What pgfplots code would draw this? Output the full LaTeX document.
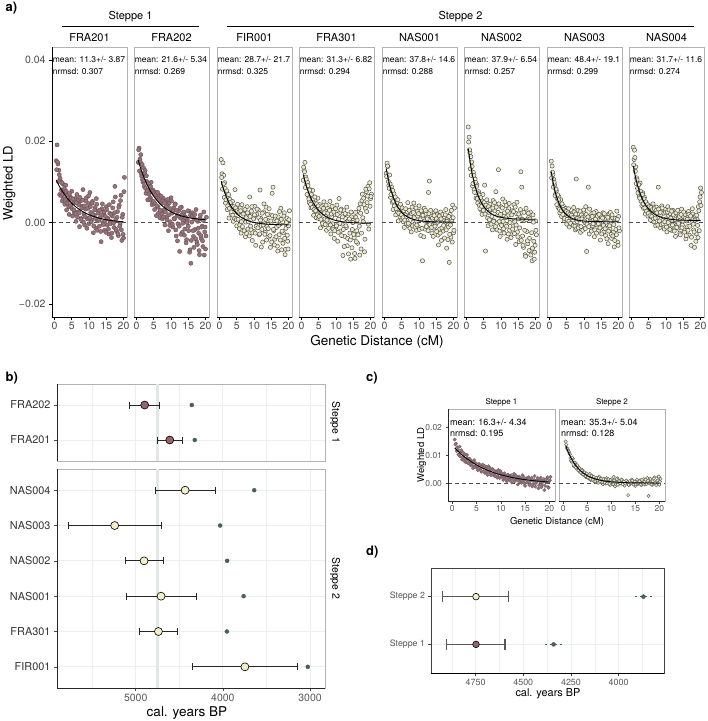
\documentclass[border=0pt]{standalone}
\usepackage{fontspec}
\setmainfont{TeX Gyre Heros}
\usepackage{pgfplots}
\usepackage{pgfplotstable}
\pgfplotsset{compat=1.18}
\usetikzlibrary{arrows.meta}

\definecolor{mauve}{RGB}{160,110,118}
\definecolor{cream}{RGB}{238,235,200}
\definecolor{mauveb}{RGB}{152,100,108}
\definecolor{creamb}{RGB}{242,238,200}
\definecolor{slate}{RGB}{74,94,98}
\definecolor{gridc}{RGB}{235,239,240}
\definecolor{bandc}{RGB}{226,232,230}
\newcommand{\fs}[1]{\fontsize{#1}{#1}\selectfont}

% weighted LD in units of 1e-3
\pgfplotstableread{
x a1 a2 a3 a4 a5 a6 a7 a8 c1 c2
0.5 15.2 14.8 15.5 10.4 12.1 23.5 15.1 18.5 15.6 14.9
0.75 19.1 18.3 12.0 12.9 14.6 21.0 13.9 15.5 14.2 12.6
1.0 14.4 15.6 14.7 14.8 13.8 17.2 11.8 16.0 12.9 11.9
1.25 12.9 16.7 11.6 11.2 9.1 16.2 10.6 13.7 10.3 10.8
1.5 6.9 11.4 9.8 9.5 11.7 14.9 9.2 11.0 13.1 9.0
1.75 10.2 10.6 4.8 9.9 6.2 9.0 7.0 8.4 11.4 7.7
2.0 8.0 13.5 7.6 6.6 8.8 12.3 7.8 9.6 8.4 8.8
2.25 5.3 8.9 3.2 4.9 5.0 8.1 5.9 6.4 10.9 6.0
2.5 9.4 12.8 6.4 8.1 3.2 10.7 3.7 9.7 9.0 7.3
2.75 7.6 7.2 1.1 3.6 7.1 6.0 6.3 5.3 7.5 5.2
3.0 4.5 10.1 5.7 4.0 4.6 9.3 2.4 4.2 10.1 6.2
3.25 9.2 5.6 3.8 7.9 1.9 4.8 5.6 7.3 7.2 4.3
3.5 3.1 8.0 2.0 1.8 5.8 7.6 1.5 3.5 8.8 5.0
3.75 7.0 9.3 5.2 3.0 2.6 4.2 3.9 6.2 6.5 3.5
4.0 5.4 6.1 0.3 5.6 0.4 6.6 4.1 2.1 7.9 4.7
4.25 2.0 9.9 2.7 1.2 4.0 3.1 0.5 4.9 5.4 2.9
4.5 6.3 4.4 8.1 2.6 1.4 2.0 1.9 3.0 8.3 3.8
4.75 3.8 8.0 1.0 6.0 3.9 6.9 3.5 1.6 6.1 2.2
5.0 7.7 4.9 -0.8 1.0 0.7 2.8 -0.4 4.2 5.6 3.0
5.25 1.6 3.2 4.5 4.4 3.3 9.2 1.4 2.5 4.7 1.8
5.5 4.9 7.5 2.3 -1.3 0.2 -7.0 3.4 0.6 7.0 3.4
5.75 2.5 1.7 -1.5 2.0 -1.2 3.9 -1.1 3.6 5.0 1.2
6.0 5.9 6.3 3.6 3.1 3.1 4.9 1.0 1.4 4.1 2.6
6.25 0.3 3.8 -2.6 -0.6 2.2 -0.8 2.2 4.6 6.7 0.9
6.5 6.9 6.8 4.4 5.1 0.5 2.5 -0.5 0.2 5.5 2.0
6.75 2.6 1.2 0.4 0.9 4.9 4.5 0.6 2.9 3.7 0.5
7.0 4.4 2.9 0.7 2.7 -0.9 0.9 3.7 -0.8 5.8 1.7
7.25 -1.0 4.8 2.3 -1.9 1.6 3.2 1.6 3.8 3.0 0.2
7.5 5.3 0.9 -3.5 3.6 2.5 -1.8 -1.8 1.2 6.1 2.4
7.75 1.0 6.0 1.2 0.3 -2.3 5.4 10.7 8.7 4.6 0.4
8.0 4.0 3.1 3.9 1.8 3.8 0.4 0.2 2.6 2.9 1.4
8.25 8.1 -0.6 -1.6 5.2 0.1 2.9 3.0 -1.2 5.2 -0.3
8.5 2.1 5.4 1.9 -2.8 4.8 7.6 -0.9 1.9 3.3 1.6
8.75 -0.6 1.4 6.3 1.4 -0.4 -0.2 1.3 4.1 2.5 0.0
9.0 3.3 4.2 -0.9 -0.3 1.3 1.8 -2.4 0.5 4.3 1.9
9.25 6.1 -2.0 2.8 3.3 -1.9 13.0 1.9 2.7 2.0 0.6
9.5 0.9 4.9 -4.4 -3.9 2.8 0.3 1.2 -1.6 4.8 1.1
9.75 4.7 0.2 1.3 1.9 -1.0 -3.4 -1.4 3.2 1.9 -0.6
10.0 -0.3 6.1 -2.2 -1.1 4.1 3.9 2.6 0.9 4.0 1.4
10.25 7.4 2.3 4.0 4.3 1.9 1.0 0.0 -2.3 2.8 0.2
10.5 2.5 -1.1 -5.6 -4.6 -3.2 5.8 3.9 3.9 1.2 2.3
10.75 0.7 3.6 2.0 0.8 2.6 -1.5 -7.1 1.7 3.6 -1.1
11.0 5.2 0.9 -0.5 2.4 -9.4 2.4 1.6 -0.4 2.3 0.7
11.25 -2.5 4.6 3.1 -2.1 0.9 -0.4 8.7 2.2 0.6 1.8
11.5 1.8 -3.3 -3.0 3.3 3.5 4.2 -2.8 -1.9 3.1 -0.4
11.75 3.7 1.8 8.0 -0.4 -1.6 -4.1 1.1 0.6 1.6 0.9
12.0 -1.4 -0.3 1.0 -8.1 2.0 1.7 -1.2 3.0 2.6 -0.1
12.25 4.5 2.9 -1.7 2.9 -0.7 3.4 2.2 -0.9 0.3 1.2
12.5 0.4 -7.1 -4.8 -3.4 1.3 -1.9 -0.8 1.3 2.0 0.4
12.75 2.9 1.1 2.6 1.0 7.4 0.6 1.8 -3.4 3.4 -0.8
13.0 -0.9 3.8 -0.3 -1.2 10.2 -3.0 -3.5 2.4 1.0 0.8
13.25 1.2 -2.4 -2.4 -5.7 -0.2 2.9 0.5 0.1 1.9 0.1
13.5 -4.7 0.5 3.8 0.4 1.5 -1.0 2.7 -1.4 -0.4 -4.2
13.75 3.4 2.2 -1.0 2.1 -2.6 4.4 -0.6 1.9 2.4 -0.5
14.0 0.0 -1.6 0.5 -2.6 0.7 0.2 1.0 -2.6 1.4 0.6
14.25 2.1 1.3 -3.6 -9.0 -1.4 -5.4 -1.9 0.8 0.2 1.3
14.5 -1.9 -4.2 1.9 1.4 2.3 2.2 0.0 3.3 2.9 -0.2
14.75 1.5 0.6 -6.1 -1.7 -0.5 -2.3 -4.3 -0.6 1.1 0.4
15.0 3.9 -0.9 0.0 0.5 1.0 0.9 1.4 1.5 -0.9 -0.9
15.25 -0.6 2.8 7.2 -3.7 1.9 -4.7 -1.0 -1.8 1.8 0.9
15.5 1.0 -6.7 8.7 -8.8 -3.1 1.6 2.4 2.0 0.5 -0.3
15.75 -2.8 -10.0 -2.0 1.3 0.4 12.5 -2.3 -4.0 2.2 0.6
16.0 2.3 0.1 -4.1 -2.0 -1.6 8.7 0.8 0.4 -0.2 1.1
16.25 0.3 2.4 0.9 -5.1 2.6 -3.3 -3.2 -1.0 1.5 -0.7
16.5 -3.7 -3.4 -1.2 2.6 -4.4 -6.1 1.7 2.7 -1.1 0.3
16.75 1.6 1.0 -5.8 -0.9 0.6 0.5 -0.6 -3.1 0.9 1.5
17.0 5.1 -1.7 1.4 4.6 -2.1 -7.9 -5.2 1.2 2.6 -0.4
17.25 -1.2 3.2 -3.0 -6.5 1.4 3.5 2.1 -5.6 0.1 0.8
17.5 8.9 -4.8 -0.4 5.4 -0.3 -2.2 -1.6 0.0 1.3 1.9
17.75 0.8 0.3 3.5 1.2 3.2 -5.2 0.4 2.1 -1.8 -4.5
18.0 -2.2 -2.6 -6.7 6.0 -6.3 1.3 -3.9 -1.8 0.7 0.2
18.25 2.7 -7.9 0.2 -7.2 0.8 -3.9 1.2 -6.1 2.0 1.0
18.5 -3.2 1.8 -2.5 3.5 -1.1 2.6 -2.4 1.6 -0.6 -0.6
18.75 4.3 -3.9 2.4 7.6 -9.8 -6.8 -6.0 -2.8 1.0 0.5
19.0 -0.4 -0.9 -7.9 4.9 2.0 -9.4 0.6 0.8 -2.4 2.1
19.25 6.7 -5.9 -1.4 8.9 -3.6 1.9 -1.7 -3.7 0.4 -0.2
19.5 -4.4 2.6 1.1 -1.6 0.3 -4.6 2.8 2.9 1.7 0.9
19.75 2.0 -2.3 -4.6 9.8 4.3 -7.3 -4.8 5.1 -1.3 2.3
20.0 -3.8 -6.5 -0.8 5.9 -2.5 0.4 1.5 8.5 0.8 -0.5
20.25 11.1 1.3 2.9 7.0 3.6 -3.0 -2.0 7.4 2.3 1.6
}\ld

\pgfplotstableread{
x a1 a2 a3 a4 a5 a6 a7 a8 c1 c2
0.625 13.0 17.9 11.1 13.6 11.3 19.8 11.0 14.2 13.9 13.8
0.875 14.9 12.7 8.2 12.5 13.9 17.9 12.4 17.8 11.5 12.3
1.125 10.1 14.9 9.5 8.6 10.1 13.2 8.7 12.6 12.0 11.4
1.375 11.8 12.1 6.2 10.7 8.4 11.6 9.9 9.6 10.1 10.4
1.625 10.9 14.3 8.4 6.9 9.5 13.8 6.6 10.5 9.6 8.1
1.875 6.6 9.9 5.6 9.1 6.9 9.6 8.2 7.3 11.8 9.2
2.125 9.8 10.3 7.8 5.8 8.0 11.6 4.4 9.3 9.4 6.6
2.375 7.0 12.0 4.1 8.0 7.9 7.4 6.8 6.0 8.1 7.4
2.625 5.9 8.4 6.9 4.5 5.2 9.9 5.6 7.7 10.3 5.6
2.875 8.3 11.5 3.5 6.9 4.1 8.9 3.3 6.8 8.2 6.5
3.125 5.7 7.8 4.9 3.7 6.3 5.9 4.8 6.9 9.0 4.7
3.375 7.7 9.6 2.6 5.8 3.4 7.1 2.9 4.6 7.4 5.4
3.625 4.8 7.0 4.0 3.2 4.9 6.8 4.6 5.8 8.6 3.9
3.875 6.8 5.6 1.8 6.3 5.6 3.4 2.0 3.6 6.9 4.6
4.125 3.9 8.8 3.9 2.9 2.3 6.1 3.2 5.1 6.4 3.2
4.375 7.2 5.4 1.0 4.6 3.9 4.0 1.0 2.8 7.7 3.9
4.625 4.2 7.6 3.6 1.9 4.5 5.3 2.9 4.4 5.9 2.6
4.875 6.0 5.2 0.7 4.1 1.9 3.0 2.7 2.3 7.2 3.5
5.125 3.4 7.1 2.9 1.5 3.6 5.0 0.8 3.9 6.0 2.1
5.375 5.8 4.6 0.8 3.4 1.2 2.1 2.4 1.7 5.3 2.9
5.625 3.1 6.9 2.6 0.8 2.9 4.3 0.3 3.7 6.6 1.6
5.875 5.0 4.1 -0.6 3.9 0.6 5.6 2.0 1.5 4.6 2.6
6.125 2.2 7.4 2.9 -0.2 3.4 1.1 -0.2 3.2 5.9 1.3
6.375 4.9 2.3 0.2 3.5 -0.3 3.9 1.8 0.9 4.3 2.3
6.625 1.4 5.6 -1.0 2.4 2.6 0.7 1.2 3.4 6.3 0.8
6.875 5.7 3.0 2.1 -0.5 -0.2 3.3 -0.7 1.1 4.1 2.0
7.125 2.4 6.5 -2.0 4.3 3.0 -0.4 2.6 3.0 5.1 1.0
7.375 6.2 2.1 3.2 0.6 -1.4 1.5 -0.9 2.4 3.8 1.9
7.625 0.8 5.3 0.1 2.3 1.6 3.6 2.1 -0.6 5.6 0.6
7.875 3.6 1.4 -2.7 -1.4 2.2 0.3 -1.5 3.3 3.5 1.7
8.125 5.5 4.9 2.4 3.0 -0.8 4.9 1.0 0.4 4.8 0.4
8.375 0.1 2.6 0.2 -0.6 2.5 -1.0 -1.3 2.5 3.1 1.5
8.625 4.1 3.9 -3.3 2.1 1.2 3.8 0.7 -0.5 4.6 0.2
8.875 1.5 0.6 1.5 4.0 -1.1 -1.8 2.8 3.6 2.7 1.4
9.125 5.3 5.7 -1.8 -1.6 3.6 2.5 -1.0 -0.3 3.9 0.0
9.375 -1.4 1.9 3.9 2.6 -0.6 4.6 0.9 2.3 2.6 1.5
9.625 3.5 -0.7 -2.5 -2.0 1.6 -2.1 -1.9 0.2 3.6 -0.2
9.875 6.6 3.4 0.9 3.4 2.2 2.0 3.1 2.5 4.4 1.2
10.125 1.2 5.3 1.9 -0.8 -1.7 -0.7 0.4 -1.1 2.3 0.6
10.375 3.9 -0.4 -2.6 2.0 0.7 3.6 -1.5 2.6 3.3 -0.3
10.625 0.2 2.9 -0.9 -2.4 2.9 0.3 2.0 0.0 1.9 1.0
10.875 4.8 1.0 3.3 5.9 -1.4 -2.6 -0.4 3.1 2.7 0.3
11.125 2.0 4.4 -1.3 -0.2 1.8 5.1 1.4 -1.7 1.4 1.5
11.375 -0.8 -1.8 1.2 3.1 -3.5 1.2 -1.0 1.1 3.0 -0.5
11.625 3.1 3.0 -2.8 -3.2 0.4 -0.9 3.3 2.8 2.1 0.8
11.875 1.0 -4.5 0.6 1.4 3.0 2.8 0.2 -0.6 1.1 0.0
12.125 5.9 1.6 -6.0 -1.7 -1.0 -2.8 -2.1 1.9 2.9 1.3
12.375 -1.9 -0.9 2.3 -5.9 0.9 4.7 1.5 -2.1 1.6 -0.3
12.625 2.3 3.6 -0.6 2.2 -2.0 0.0 -0.3 0.7 2.4 0.6
12.875 0.6 -2.9 4.6 -0.8 2.2 -3.7 2.4 2.4 0.8 -0.1
13.125 3.0 1.9 -2.9 3.8 -0.5 1.9 -1.8 -1.2 2.8 1.0
13.375 -2.2 -0.2 0.8 -3.9 3.0 -1.6 0.9 3.0 1.2 0.4
13.625 1.9 2.6 -4.3 -7.7 -1.2 2.7 -2.6 -0.2 2.0 -0.6
13.875 4.6 -3.1 2.0 0.9 1.1 -2.7 1.6 1.5 0.5 0.8
14.125 -0.5 1.2 -1.5 -4.3 -3.4 3.8 -0.3 -3.0 1.8 0.2
14.375 2.6 -5.0 3.4 2.6 1.7 -0.6 2.0 2.0 0.8 1.0
14.625 0.4 0.0 -3.2 -6.2 -0.9 5.0 -1.3 -1.3 2.3 -0.4
14.875 -2.4 2.9 0.4 0.0 2.9 -3.5 0.6 0.4 0.0 0.6
15.125 3.2 -2.0 -4.8 -2.9 -2.2 2.1 -2.8 2.6 1.6 -0.2
15.375 0.9 -7.3 1.7 -7.6 0.1 -1.3 1.1 -2.4 0.3 1.3
15.625 -1.6 1.8 -1.7 2.5 -5.5 3.2 -0.7 1.0 1.9 0.1
15.875 4.4 -4.4 -5.5 -4.7 1.6 -4.4 2.2 -3.2 -0.6 0.7
16.125 -0.3 1.5 1.6 0.6 -2.6 0.8 -1.5 0.8 0.9 -0.3
16.375 2.0 -2.0 -3.5 -3.0 0.9 -5.6 0.1 -1.9 2.0 1.2
16.625 -2.6 -6.1 0.4 3.5 -1.3 2.5 -4.0 2.0 -0.3 -0.1
16.875 3.6 2.0 -7.0 -8.0 2.0 -1.9 1.3 -0.9 1.2 0.6
17.125 -0.1 -4.0 -0.7 2.3 -0.7 -8.3 -2.1 1.6 -1.2 1.3
17.375 2.4 0.6 2.7 -2.6 -3.8 0.7 -0.8 -3.6 0.6 -0.2
17.625 6.3 -5.4 -4.3 7.0 1.9 -4.5 2.5 3.4 1.9 0.9
17.875 -1.7 -1.4 0.8 0.2 -1.8 2.3 -2.9 -0.4 -0.7 0.0
18.125 1.3 -6.9 -2.1 4.4 0.3 -6.9 1.9 -2.3 1.3 1.6
18.375 -2.8 0.9 -5.1 -4.1 -4.2 0.9 -3.3 0.6 -1.4 -0.4
18.625 3.8 -3.2 1.6 8.2 1.5 -8.0 -0.5 -4.6 0.4 0.7
18.875 -0.9 -1.1 -3.9 2.7 -2.9 -2.5 -4.4 1.8 1.5 1.8
19.125 5.4 -4.5 -6.6 6.5 -0.6 -6.3 1.0 -0.7 -0.9 0.2
19.375 -1.8 0.5 0.0 -0.4 3.0 0.1 -3.0 3.9 0.6 -0.7
19.625 1.3 -8.0 -3.1 8.3 -4.8 -9.0 0.8 -2.0 2.2 1.0
19.875 -2.9 -1.1 -6.5 4.0 1.2 -5.6 -5.6 6.3 -1.6 2.4
20.125 7.6 -3.3 0.7 6.4 -1.9 -1.9 -1.3 4.2 1.1 0.6
}\ldb

\pgfplotstableread{
x f1 f2 f3 f4 f5 f6 f7 f8 g1 g2
0.5 10.45 15.33 10.16 11.85 13.33 18.17 12.58 13.93 12.65 13.46
1 9.59 13.91 8.66 10.17 11.04 15.16 10.08 11.78 11.77 11.26
1.5 8.79 12.62 7.37 8.73 9.15 12.68 8.09 9.97 10.95 9.42
2 8.06 11.46 6.26 7.48 7.58 10.62 6.50 8.45 10.18 7.89
3 6.77 9.46 4.48 5.49 5.22 7.52 4.22 6.10 8.80 5.53
4 5.68 7.81 3.17 4.02 3.60 5.39 2.76 4.45 7.60 3.89
5 4.76 6.47 2.19 2.92 2.49 3.94 1.83 3.28 6.55 2.74
6 3.98 5.37 1.47 2.11 1.74 2.95 1.24 2.46 5.64 1.94
7 3.33 4.47 0.93 1.52 1.22 2.27 0.86 1.88 4.85 1.39
8 2.78 3.73 0.53 1.07 0.86 1.80 0.62 1.47 4.17 1.00
9 2.31 3.13 0.24 0.74 0.62 1.49 0.47 1.19 3.57 0.73
10 1.92 2.63 0.02 0.50 0.46 1.27 0.37 0.98 3.05 0.54
12 1.31 1.90 -0.26 0.18 0.27 1.02 0.27 0.74 2.21 0.31
14 0.87 1.40 -0.41 0.01 0.18 0.90 0.22 0.62 1.57 0.20
16 0.56 1.07 -0.50 -0.09 0.14 0.85 0.21 0.56 1.09 0.15
18 0.34 0.85 -0.54 -0.14 0.12 0.82 0.20 0.53 0.73 0.12
20 0.19 0.70 -0.57 -0.17 0.11 0.81 0.20 0.52 0.45 0.11
}\fit

\tikzset{
  mt/.style={anchor=west, font=\fs{8.5}, inner sep=0pt},
  mtc/.style={anchor=west, font=\fs{9}, inner sep=0pt},
}
\pgfplotsset{
  afacet/.style={scale only axis, width=75pt, height=270pt, anchor=south west,
    xmin=-0.72, xmax=21, ymin=-23.3, ymax=43.1,
    xtick={0,5,10,15,20}, xticklabels={0,5,10,15,20},
    ytick={-20,0,20,40}, yticklabels={−0.02,0.00,0.02,0.04},
    tick align=outside, xtick pos=bottom, ytick pos=left,
    major tick length=3pt, tick style={black, line width=0.6pt},
    axis line style={gray!60, line width=0.7pt},
    xticklabel style={font=\fs{10.5}, text=black!70, inner sep=1.5pt},
    yticklabel style={font=\fs{10.5}, text=black!70},
    clip mode=individual, /pgf/number format/assume math mode=true},
  noy/.style={ytick=\empty},
  sc1/.style={only marks, mark=*, mark size=2.1pt, mark options={fill=mauve, draw=black!65, line width=0.4pt}},
  sc2/.style={only marks, mark=*, mark size=2.1pt, mark options={fill=cream, draw=black!68, line width=0.5pt}},
  sd1/.style={only marks, mark=*, mark size=1.7pt, mark options={fill=mauve, draw=black!60, line width=0.3pt}},
  sd2/.style={only marks, mark=*, mark size=1.7pt, mark options={fill=cream, draw=black!65, line width=0.4pt}},
  zero/.style={black!70, line width=0.6pt, dash pattern=on 4pt off 3pt},
  fitl/.style={black, line width=0.9pt, smooth},
  bfacet/.style={scale only axis, width=268pt, anchor=south west, x dir=reverse,
    xmin=2828, xmax=5903, xtick={3000,4000,5000}, minor xtick={3500,4500,5500},
    scaled ticks=false, grid=both,
    major grid style={gridc, line width=0.9pt}, minor grid style={gridc, line width=0.5pt},
    tick align=outside, major tick length=3pt, minor tick length=0pt,
    tick style={gray!60!black, line width=0.6pt}, xtick pos=bottom, ytick pos=left,
    axis line style={gray!60, line width=0.7pt},
    yticklabel style={font=\fs{10.9}, text=black!80},
    xticklabel style={font=\fs{10.5}, text=black!65},
    clip mode=individual, /pgf/number format/assume math mode=true},
  band/.style={bandc, line width=3pt},
  ebar/.style={black!85, line width=0.8pt, {Bar[width=7pt]}-{Bar[width=7pt]}},
  dots/.style={only marks, mark=*, mark size=2pt, mark options={fill=slate, draw=slate}},
  mp1/.style={only marks, mark=*, mark size=4pt, mark options={fill=mauveb, draw=black, line width=0.6pt}},
  mp2/.style={only marks, mark=*, mark size=4pt, mark options={fill=creamb, draw=black, line width=0.6pt}},
  cfacet/.style={scale only axis, height=92pt, anchor=south west,
    xmin=-0.89, xmax=21.18, ymin=-6.3, ymax=26.5,
    xtick={0,5,10,15,20}, xticklabels={0,5,10,15,20},
    ytick={0,10,20}, yticklabels={0.00,0.01,0.02},
    tick align=outside, xtick pos=bottom, ytick pos=left,
    major tick length=2.5pt, tick style={gray!50!black, line width=0.5pt},
    axis line style={gray!60, line width=0.7pt},
    xticklabel style={font=\fs{8.5}, text=black!65, inner sep=1.5pt},
    yticklabel style={font=\fs{8.5}, text=black!65},
    clip mode=individual, /pgf/number format/assume math mode=true},
}

\begin{document}
\begin{tikzpicture}
\path[use as bounding box] (0pt,0pt) rectangle (708pt,-721pt);

% ---------------- panel a ----------------
\begin{axis}[afacet, at={(52pt,-317.3pt)}]
\addplot[zero] coordinates {(-0.72,0) (21,0)};
\addplot[sc1] table[x=x,y=a1] {\ld};
\addplot[sc1] table[x=x,y=a1] {\ldb};
\addplot[fitl] table[x=x,y=f1] {\fit};
\node[mt] at (axis cs:-0.55,40) {mean: 11.3+/- 3.87};
\node[mt] at (axis cs:-0.55,37.2) {nrmsd: 0.307};
\draw[black, line width=0.9pt] (rel axis cs:0,0) -- (rel axis cs:1,0);
\draw[black, line width=0.9pt] (rel axis cs:0,0) -- (rel axis cs:0,1);
\end{axis}
\begin{axis}[afacet, noy, at={(134pt,-317.3pt)}]
\addplot[zero] coordinates {(-0.72,0) (21,0)};
\addplot[sc1] table[x=x,y=a2] {\ld};
\addplot[sc1] table[x=x,y=a2] {\ldb};
\addplot[fitl] table[x=x,y=f2] {\fit};
\node[mt] at (axis cs:-0.55,40) {mean: 21.6+/- 5.34};
\node[mt] at (axis cs:-0.55,37.2) {nrmsd: 0.269};
\draw[black, line width=0.9pt] (rel axis cs:0,0) -- (rel axis cs:1,0);
\end{axis}
\begin{axis}[afacet, noy, at={(217pt,-317.3pt)}]
\addplot[zero] coordinates {(-0.72,0) (21,0)};
\addplot[sc2] table[x=x,y=a3] {\ld};
\addplot[sc2] table[x=x,y=a3] {\ldb};
\addplot[fitl] table[x=x,y=f3] {\fit};
\node[mt] at (axis cs:-0.55,40) {mean: 28.7+/- 21.7};
\node[mt] at (axis cs:-0.55,37.2) {nrmsd: 0.325};
\draw[black, line width=0.9pt] (rel axis cs:0,0) -- (rel axis cs:1,0);
\end{axis}
\begin{axis}[afacet, noy, at={(299pt,-317.3pt)}]
\addplot[zero] coordinates {(-0.72,0) (21,0)};
\addplot[sc2] table[x=x,y=a4] {\ld};
\addplot[sc2] table[x=x,y=a4] {\ldb};
\addplot[fitl] table[x=x,y=f4] {\fit};
\node[mt] at (axis cs:-0.55,40) {mean: 31.3+/- 6.82};
\node[mt] at (axis cs:-0.55,37.2) {nrmsd: 0.294};
\draw[black, line width=0.9pt] (rel axis cs:0,0) -- (rel axis cs:1,0);
\end{axis}
\begin{axis}[afacet, noy, at={(382pt,-317.3pt)}]
\addplot[zero] coordinates {(-0.72,0) (21,0)};
\addplot[sc2] table[x=x,y=a5] {\ld};
\addplot[sc2] table[x=x,y=a5] {\ldb};
\addplot[fitl] table[x=x,y=f5] {\fit};
\node[mt] at (axis cs:-0.55,40) {mean: 37.8+/- 14.6};
\node[mt] at (axis cs:-0.55,37.2) {nrmsd: 0.288};
\draw[black, line width=0.9pt] (rel axis cs:0,0) -- (rel axis cs:1,0);
\end{axis}
\begin{axis}[afacet, noy, at={(464pt,-317.3pt)}]
\addplot[zero] coordinates {(-0.72,0) (21,0)};
\addplot[sc2] table[x=x,y=a6] {\ld};
\addplot[sc2] table[x=x,y=a6] {\ldb};
\addplot[fitl] table[x=x,y=f6] {\fit};
\node[mt] at (axis cs:-0.55,40) {mean: 37.9+/- 6.54};
\node[mt] at (axis cs:-0.55,37.2) {nrmsd: 0.257};
\draw[black, line width=0.9pt] (rel axis cs:0,0) -- (rel axis cs:1,0);
\end{axis}
\begin{axis}[afacet, noy, at={(547pt,-317.3pt)}]
\addplot[zero] coordinates {(-0.72,0) (21,0)};
\addplot[sc2] table[x=x,y=a7] {\ld};
\addplot[sc2] table[x=x,y=a7] {\ldb};
\addplot[fitl] table[x=x,y=f7] {\fit};
\node[mt] at (axis cs:-0.55,40) {mean: 48.4+/- 19.1};
\node[mt] at (axis cs:-0.55,37.2) {nrmsd: 0.299};
\draw[black, line width=0.9pt] (rel axis cs:0,0) -- (rel axis cs:1,0);
\end{axis}
\begin{axis}[afacet, noy, at={(629pt,-317.3pt)}]
\addplot[zero] coordinates {(-0.72,0) (21,0)};
\addplot[sc2] table[x=x,y=a8] {\ld};
\addplot[sc2] table[x=x,y=a8] {\ldb};
\addplot[fitl] table[x=x,y=f8] {\fit};
\node[mt] at (axis cs:-0.55,40) {mean: 31.7+/- 11.6};
\node[mt] at (axis cs:-0.55,37.2) {nrmsd: 0.274};
\draw[black, line width=0.9pt] (rel axis cs:0,0) -- (rel axis cs:1,0);
\end{axis}

\node[anchor=base west, font=\bfseries\fs{13}, inner sep=0pt] at (5.5pt,-11pt) {a)};
\node[anchor=base, font=\fs{11}, inner sep=0pt] at (130.5pt,-19.5pt) {Steppe 1};
\node[anchor=base, font=\fs{11}, inner sep=0pt] at (460.5pt,-19.5pt) {Steppe 2};
\draw[black, line width=0.8pt] (62pt,-26pt) -- (199pt,-26pt);
\draw[black, line width=0.8pt] (227pt,-26pt) -- (694pt,-26pt);
\foreach \cx/\lab in {89.5/FRA201,171.5/FRA202,254.5/FIR001,336.5/FRA301,419.5/NAS001,501.5/NAS002,584.5/NAS003,666.5/NAS004}
  \node[anchor=base, font=\fs{11}, inner sep=0pt] at (\cx pt,-41.7pt) {\lab};
\node[rotate=90, anchor=base, font=\fs{13}, inner sep=0pt] at (12.7pt,-183.5pt) {Weighted LD};
\node[anchor=base, font=\fs{13.5}, inner sep=0pt] at (377pt,-345pt) {Genetic Distance (cM)};

% ---------------- panel b ----------------
\begin{axis}[bfacet, at={(57pt,-461pt)}, height=77pt, ymin=0.4, ymax=2.6,
  ytick={1,2}, yticklabels={FRA201,FRA202}, xticklabels={}, xtick style={draw=none}]
\addplot[band] coordinates {(4747,0.4) (4747,2.6)};
\addplot[ebar] coordinates {(5077,2) (4720,2)};
\addplot[ebar] coordinates {(4759,1) (4460,1)};
\addplot[dots] coordinates {(4356,2) (4322,1)};
\addplot[mp1] coordinates {(4897,2) (4609,1)};
\draw[black!85, line width=0.9pt] (rel axis cs:0,0) -- (rel axis cs:0,1);
\end{axis}
\begin{axis}[bfacet, at={(57pt,-688pt)}, height=219pt, ymin=0.4, ymax=6.6,
  ytick={1,2,3,4,5,6}, yticklabels={FIR001,FRA301,NAS001,NAS002,NAS003,NAS004},
  xticklabels={3000,4000,5000}]
\addplot[band] coordinates {(4747,0.4) (4747,6.6)};
\addplot[ebar] coordinates {(4778,6) (4084,6)};
\addplot[ebar] coordinates {(5778,5) (4705,5)};
\addplot[ebar] coordinates {(5119,4) (4678,4)};
\addplot[ebar] coordinates {(5115,3) (4302,3)};
\addplot[ebar] coordinates {(4966,2) (4514,2)};
\addplot[ebar] coordinates {(4349,1) (3141,1)};
\addplot[dots] coordinates {(3640,6) (4031,5) (3951,4) (3762,3) (3954,2) (3026,1)};
\addplot[mp2] coordinates {(4433,6) (5241,5) (4904,4) (4709,3) (4739,2) (3747,1)};
\draw[black!85, line width=0.9pt] (rel axis cs:0,0) -- (rel axis cs:0,1);
\draw[black!85, line width=0.9pt] (rel axis cs:0,0) -- (rel axis cs:1,0);
\end{axis}
\node[anchor=base west, font=\bfseries\fs{13}, inner sep=0pt] at (5.5pt,-381pt) {b)};
\node[rotate=-90, font=\fs{10.4}, inner sep=0pt] at (335pt,-422.5pt) {Steppe 1};
\node[rotate=-90, font=\fs{10.4}, inner sep=0pt] at (335pt,-578.5pt) {Steppe 2};
\node[anchor=base, font=\fs{13.5}, inner sep=0pt] at (187pt,-716pt) {cal. years BP};

% ---------------- panel c ----------------
\begin{axis}[cfacet, width=107pt, at={(448pt,-501pt)}]
\addplot[zero] coordinates {(-0.89,0) (21.18,0)};
\addplot[sd1] table[x=x,y=c1] {\ld};
\addplot[sd1] table[x=x,y=c1] {\ldb};
\addplot[fitl] table[x=x,y=g1] {\fit};
\node[mtc] at (axis cs:-0.5,21.6) {mean: 16.3+/- 4.34};
\node[mtc] at (axis cs:-0.5,18.0) {nrmsd: 0.195};
\draw[black!85, line width=0.8pt] (rel axis cs:0,0) -- (rel axis cs:1,0);
\draw[black!85, line width=0.8pt] (rel axis cs:0,0) -- (rel axis cs:0,1);
\end{axis}
\begin{axis}[cfacet, noy, width=106pt, at={(559pt,-501pt)}]
\addplot[zero] coordinates {(-0.89,0) (21.18,0)};
\addplot[sd2] table[x=x,y=c2] {\ld};
\addplot[sd2] table[x=x,y=c2] {\ldb};
\addplot[fitl] table[x=x,y=g2] {\fit};
\node[mtc] at (axis cs:-0.5,21.6) {mean: 35.3+/- 5.04};
\node[mtc] at (axis cs:-0.5,18.0) {nrmsd: 0.128};
\draw[black!85, line width=0.8pt] (rel axis cs:0,0) -- (rel axis cs:1,0);
\end{axis}
\node[anchor=base west, font=\bfseries\fs{13}, inner sep=0pt] at (366pt,-381pt) {c)};
\node[anchor=base, font=\fs{8}, inner sep=0pt] at (501.5pt,-404.3pt) {Steppe 1};
\node[anchor=base, font=\fs{8}, inner sep=0pt] at (612pt,-404.3pt) {Steppe 2};
\node[rotate=90, anchor=base, font=\fs{9.5}, inner sep=0pt] at (424pt,-455pt) {Weighted LD};
\node[anchor=base, font=\fs{9.5}, inner sep=0pt] at (557pt,-524pt) {Genetic Distance (cM)};

% ---------------- panel d ----------------
\begin{axis}[scale only axis, width=233pt, height=105pt, anchor=south west, at={(431pt,-673pt)},
  x dir=reverse, xmin=3762, xmax=4984, ymin=0.4, ymax=2.6,
  ytick={1,2}, yticklabels={Steppe 1,Steppe 2},
  xtick={4000,4250,4500,4750}, xticklabels={4000,4250,4500,4750},
  minor xtick={3875,4125,4375,4625,4875}, scaled ticks=false, grid=both,
  major grid style={gridc, line width=0.8pt}, minor grid style={gridc, line width=0.5pt},
  tick align=outside, major tick length=2.5pt, minor tick length=0pt,
  tick style={gray!50!black, line width=0.5pt}, xtick pos=bottom, ytick pos=left,
  axis line style={black!75, line width=0.7pt},
  yticklabel style={font=\fs{8.8}, text=black!65},
  xticklabel style={font=\fs{8.9}, text=black!65},
  clip mode=individual, /pgf/number format/assume math mode=true]
\addplot[black!65, line width=1.1pt, {Bar[width=10.5pt]}-{Bar[width=10.5pt]}] coordinates {(4926,2) (4574,2)};
\addplot[black!65, line width=1.1pt, {Bar[width=10.5pt]}-{Bar[width=10.5pt]}] coordinates {(4906,1) (4593,1)};
\addplot[slate, line width=0.6pt, dash pattern=on 2pt off 3pt] coordinates {(3913,2) (3815,2)};
\addplot[slate, line width=0.6pt, dash pattern=on 2pt off 3pt] coordinates {(4388,1) (4296,1)};
\addplot[dots] coordinates {(3870,2) (4341,1)};
\addplot[only marks, mark=*, mark size=3.3pt, mark options={fill=creamb, draw=black, line width=0.6pt}] coordinates {(4748,2)};
\addplot[only marks, mark=*, mark size=3.3pt, mark options={fill=mauveb, draw=black, line width=0.6pt}] coordinates {(4748,1)};
\draw[black, line width=0.9pt] (rel axis cs:0,0) -- (rel axis cs:1,0);
\end{axis}
\node[anchor=base west, font=\bfseries\fs{13}, inner sep=0pt] at (366pt,-555pt) {d)};
\node[anchor=base, font=\fs{10.9}, inner sep=0pt] at (548pt,-696.7pt) {cal. years BP};
\end{tikzpicture}
\end{document}
